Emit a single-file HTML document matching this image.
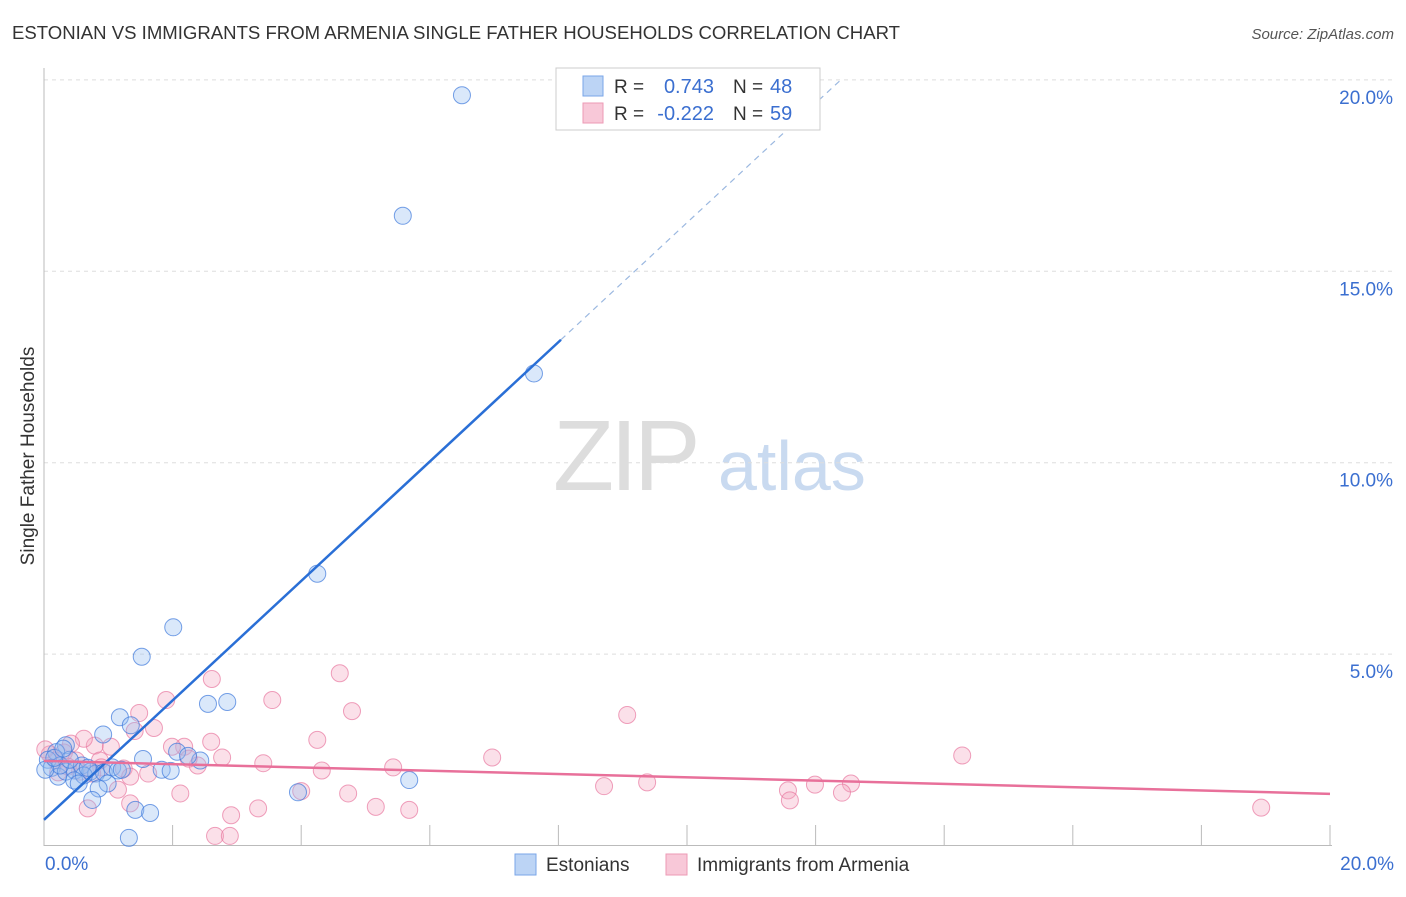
<!DOCTYPE html>
<html><head><meta charset="utf-8"><style>
body{margin:0;background:#fff;font-family:"Liberation Sans",sans-serif;}
svg text{font-family:"Liberation Sans",sans-serif;}
</style></head><body>
<svg id="chart" width="1406" height="892" xmlns="http://www.w3.org/2000/svg">
<text x="12" y="39" font-size="18" fill="#333" textLength="888" lengthAdjust="spacingAndGlyphs">ESTONIAN VS IMMIGRANTS FROM ARMENIA SINGLE FATHER HOUSEHOLDS CORRELATION CHART</text>
<text x="1394" y="39" font-size="15" fill="#555" font-style="italic" text-anchor="end">Source: ZipAtlas.com</text>
<g>
<text x="553" y="490" font-size="100" fill="#ddd" font-family="Liberation Serif" letter-spacing="-4">ZIP</text>
<text x="718" y="490" font-size="70" fill="#c9daf0">atlas</text>
</g>
<text transform="translate(34,456) rotate(-90)" font-size="19" fill="#333" text-anchor="middle">Single Father Households</text>
<g id="grid"></g>
<g id="axes"></g>
<g id="pts"></g>
<g id="trend"></g>
<g>
<rect x="556" y="68" width="264" height="62" fill="#fff" stroke="#ccc"/>
<rect x="583" y="76" width="20" height="20" fill="#bcd4f5" stroke="#7aa6e8"/>
<rect x="583" y="103" width="20" height="20" fill="#f8c8d8" stroke="#ec9ab5"/>
<text x="614" y="93" font-size="19" fill="#333">R =</text>
<text x="714" y="93" font-size="20" fill="#3b6fd0" text-anchor="end">0.743</text>
<text x="733" y="93" font-size="19" fill="#333">N =</text>
<text x="770" y="93" font-size="20" fill="#3b6fd0">48</text>
<text x="614" y="120" font-size="19" fill="#333">R =</text>
<text x="714" y="120" font-size="20" fill="#3b6fd0" text-anchor="end">-0.222</text>
<text x="733" y="120" font-size="19" fill="#333">N =</text>
<text x="770" y="120" font-size="20" fill="#3b6fd0">59</text>
</g>
<g>
<rect x="515" y="854" width="21" height="21" fill="#bcd4f5" stroke="#7aa6e8"/>
<text x="546" y="871" font-size="19" fill="#333">Estonians</text>
<rect x="666" y="854" width="21" height="21" fill="#f8c8d8" stroke="#ec9ab5"/>
<text x="697" y="871" font-size="19" fill="#333">Immigrants from Armenia</text>
</g>
</svg>
<script>
const xTicks=[0,2,4,6,8,10,12,14,16,18,20];
const yTicks=[5,10,15,20];
const yTickLabels=["5.0%","10.0%","15.0%","20.0%"];
const xLabels=["0.0%","20.0%"];
const blueX=[6.5,5.58,7.62,4.25,2.01,1.52,2.55,2.85,1.18,1.35,0.92,1.54,2.07,2.43,1.83,1.97,2.24,0.34,0.19,0.06,0.12,0.22,0.34,0.48,0.59,0.72,0.81,0.93,1.06,1.15,0.99,0.85,0.47,0.75,1.42,1.65,1.32,3.95,5.68,0.25,0.40,0.02,0.62,0.54,1.21,0.16,0.30,0.68];
const blueY=[19.6,16.45,12.33,7.1,5.7,4.93,3.7,3.75,3.35,3.14,2.9,2.26,2.45,2.22,1.98,1.95,2.34,2.62,2.44,2.24,2.03,1.8,1.93,1.96,2.09,1.93,1.88,1.91,2.04,1.96,1.62,1.49,1.7,1.19,0.93,0.85,0.2,1.39,1.71,2.09,2.24,1.98,1.83,1.62,1.98,2.29,2.53,2.03];
const pinkX=[4.6,2.61,1.90,3.55,4.79,9.07,1.48,1.71,1.41,4.25,2.6,2.18,1.99,0.79,0.62,0.42,1.04,6.97,14.28,3.41,2.39,4.32,5.43,0.31,0.09,0.19,0.50,0.87,1.24,1.34,1.15,0.89,0.56,2.25,2.77,8.71,9.38,11.57,11.99,12.55,12.41,11.6,2.12,4.0,4.73,3.33,5.16,5.68,1.34,0.68,2.91,2.66,2.89,18.93,0.02,0.37,0.22,0.75,1.62];
const pinkY=[4.5,4.35,3.8,3.8,3.51,3.41,3.46,3.07,2.99,2.76,2.71,2.58,2.58,2.61,2.79,2.66,2.58,2.3,2.35,2.15,2.09,1.96,2.04,2.43,2.38,2.22,2.22,2.22,2.01,1.8,1.46,2.04,1.93,2.27,2.3,1.55,1.65,1.44,1.59,1.62,1.38,1.18,1.36,1.42,1.36,0.97,1.01,0.93,1.1,0.97,0.79,0.25,0.25,0.99,2.51,2.06,1.91,1.88,1.88];
const blueTrend=[0.67,1.56]; // intercept, slope
const pinkTrend=[2.21,1.35]; // y at 0, y at 20
const X0=44,X1=1330,Y0=845.5,PY=38.28;
const sx=v=>X0+(X1-X0)*v/20, sy=v=>Y0-v*PY;
const NS="http://www.w3.org/2000/svg";
function mk(tag,attrs,parent){const e=document.createElementNS(NS,tag);for(const k in attrs)e.setAttribute(k,attrs[k]);parent.appendChild(e);return e;}
const grid=document.getElementById('grid'),axes=document.getElementById('axes'),pts=document.getElementById('pts'),tr=document.getElementById('trend');
yTicks.forEach((t,i)=>{
 const l=mk('line',{x1:X0,x2:1392,y1:sy(t),y2:sy(t),stroke:'#ddd','stroke-dasharray':'4,4'},grid);
 
 
 const tx=mk('text',{x:1393,y:sy(t)+24,'font-size':19,fill:'#3b6fd0','text-anchor':'end'},axes);
 tx.textContent=yTickLabels[i];
 
 
});
const ax=mk('line',{x1:X0,x2:X0,y1:68,y2:846,stroke:'#bbb'},axes);


const bx=mk('line',{x1:X0,x2:X1+2,y1:845.5,y2:845.5,stroke:'#bbb'},axes);


xTicks.forEach(t=>{
 const l=mk('line',{x1:sx(t),x2:sx(t),y1:825,y2:846,stroke:'#bbb'},axes);
 
 
});
[[0,'start',45],[20,'end',1394]].forEach((a,i)=>{
 const tx=mk('text',{x:a[2],y:870,'font-size':19,fill:'#3b6fd0','text-anchor':a[1]},axes);
 tx.textContent=xLabels[i];
 
 
});
pinkX.forEach((x,i)=>{
 const c=mk('circle',{cx:sx(x),cy:sy(pinkY[i]),r:8.5,fill:'rgba(244,165,192,0.35)',stroke:'rgba(232,120,160,0.7)','stroke-width':1},pts);
 
 
});
blueX.forEach((x,i)=>{
 const c=mk('circle',{cx:sx(x),cy:sy(blueY[i]),r:8.5,fill:'rgba(150,190,240,0.35)',stroke:'rgba(60,120,220,0.7)','stroke-width':1},pts);
 
 
});
const bSolidEnd=8.04;
const bl=mk('line',{x1:sx(0),y1:sy(blueTrend[0]),x2:sx(bSolidEnd),y2:sy(blueTrend[0]+blueTrend[1]*bSolidEnd),stroke:'#2a6fd6','stroke-width':2.5},tr);


const bEnd=(20.0-blueTrend[0])/blueTrend[1];
const bd=mk('line',{x1:sx(bSolidEnd),y1:sy(blueTrend[0]+blueTrend[1]*bSolidEnd),x2:sx(bEnd),y2:sy(blueTrend[0]+blueTrend[1]*bEnd),stroke:'#9bb8e0','stroke-width':1.2,'stroke-dasharray':'6,5'},tr);


const pl=mk('line',{x1:sx(0),y1:sy(pinkTrend[0]),x2:sx(20),y2:sy(pinkTrend[1]),stroke:'#e8709a','stroke-width':2.5},tr);


</script>
</body></html>
